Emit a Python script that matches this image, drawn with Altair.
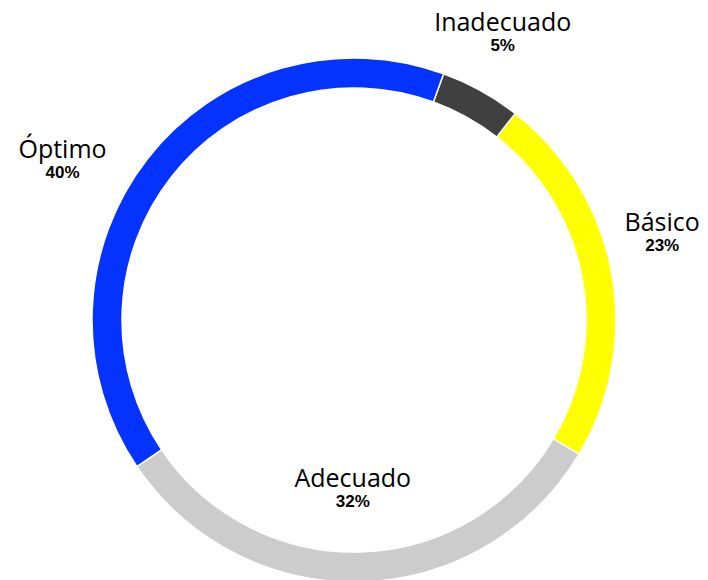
import math
import altair as alt
import pandas as pd

# ---- data ----
categories = ["Inadecuado", "Básico", "Adecuado", "Óptimo"]
values = [5, 23, 32, 40]
pct_labels = ["5%", "23%", "32%", "40%"]
order = [0, 1, 2, 3]

# ---- style ----
colors = ["#404040", "#FFFF00", "#CCCCCC", "#0433FF"]
START_DEG = 20
CX, CY = 346, 312
R_OUT, R_IN = 262, 232
# label placement per category: (angle nudge in degrees, radius in px)
label_place = {
    "Inadecuado": (-1.5, 322),
    "Básico": (-5.0, 320),
    "Adecuado": (2.0, 170),
    "Óptimo": (-9.4, 332),
}

df = pd.DataFrame({"cat": categories, "value": values, "pct": pct_labels, "order": order})
start = math.radians(START_DEG)


def lookup_expr(idx):
    expr = "0"
    for k, v in label_place.items():
        expr = f"(datum.cat === '{k}' ? {v[idx]} : {expr})"
    return expr


base = alt.Chart(df)

arc = base.mark_arc(
    outerRadius=R_OUT, innerRadius=R_IN, stroke="white", strokeWidth=1.5
).encode(
    theta=alt.Theta("value:Q", stack=True,
                    scale=alt.Scale(range=[start, start + 2 * math.pi])),
    order=alt.Order("order:Q"),
    color=alt.Color("cat:N", scale=alt.Scale(domain=categories, range=colors), legend=None),
    x=alt.value(CX),
    y=alt.value(CY),
)

lab = base.transform_joinaggregate(
    total="sum(value)"
).transform_window(
    cum="sum(value)", sort=[alt.SortField("order")], frame=[None, 0]
).transform_calculate(
    ang=f"{start} + 2*PI*(datum.cum - datum.value/2)/datum.total + PI/180*{lookup_expr(0)}",
    rad=lookup_expr(1),
)

enc = dict(
    theta=alt.Theta("ang:Q", scale=None, stack=False),
    radius=alt.Radius("rad:Q", scale=None),
    x=alt.value(CX),
    y=alt.value(CY),
)

names = lab.mark_text(
    font="Open Sans", fontSize=25, color="black", dy=-11, baseline="middle", align="center"
).encode(text="cat:N", **enc)

pcts = lab.mark_text(
    font="Liberation Sans", fontSize=17, fontWeight="bold", color="black", dy=12,
    baseline="middle", align="center"
).encode(text="pct:N", **enc)

chart = alt.layer(arc, names, pcts).properties(
    width=692, height=572,
    autosize=alt.AutoSizeParams(type="none"),
    padding=0,
).configure_view(stroke=None)

chart.save("out.html", embed_options={"renderer": "svg", "actions": False})
